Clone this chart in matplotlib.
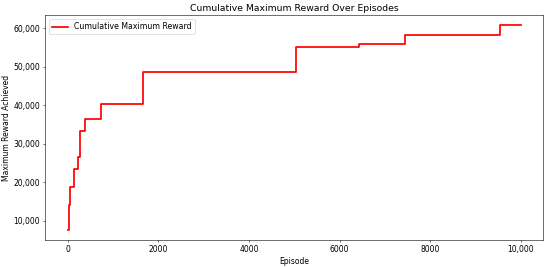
import matplotlib
matplotlib.use("Agg")
import matplotlib.pyplot as plt
from matplotlib.ticker import FuncFormatter

episodes = [0, 30, 44, 139, 227, 279, 380, 725, 1670, 5030, 6420, 7450, 9535, 10000]
max_reward = [7550, 14000, 18670, 23280, 26500, 33400, 36300, 40400, 48750, 55230, 55950, 58200, 60780, 60780]

fig = plt.figure(figsize=(11, 5.36), dpi=50)
ax = fig.add_axes([0.082, 0.104, 0.906, 0.839])
ax.plot(episodes, max_reward, drawstyle='steps-post', color='red', linewidth=2.5,
        label='Cumulative Maximum Reward')
ax.set_title('Cumulative Maximum Reward Over Episodes', fontsize=13.3)
ax.set_xlabel('Episode', fontsize=11)
ax.set_ylabel('Maximum Reward Achieved', fontsize=11)
ax.set_xlim(-500, 10500)
ax.set_ylim(4900, 63400)
ax.set_xticks([0, 2000, 4000, 6000, 8000, 10000])
ax.set_yticks([10000, 20000, 30000, 40000, 50000, 60000])
ax.xaxis.set_major_formatter(FuncFormatter(lambda v, p: f'{int(v):,}' if v >= 10000 else f'{int(v)}'))
ax.yaxis.set_major_formatter(FuncFormatter(lambda v, p: f'{int(v):,}'))
ax.tick_params(labelsize=11)
ax.legend(loc='upper left', fontsize=11.2)
fig.savefig('out.png', dpi=50)
